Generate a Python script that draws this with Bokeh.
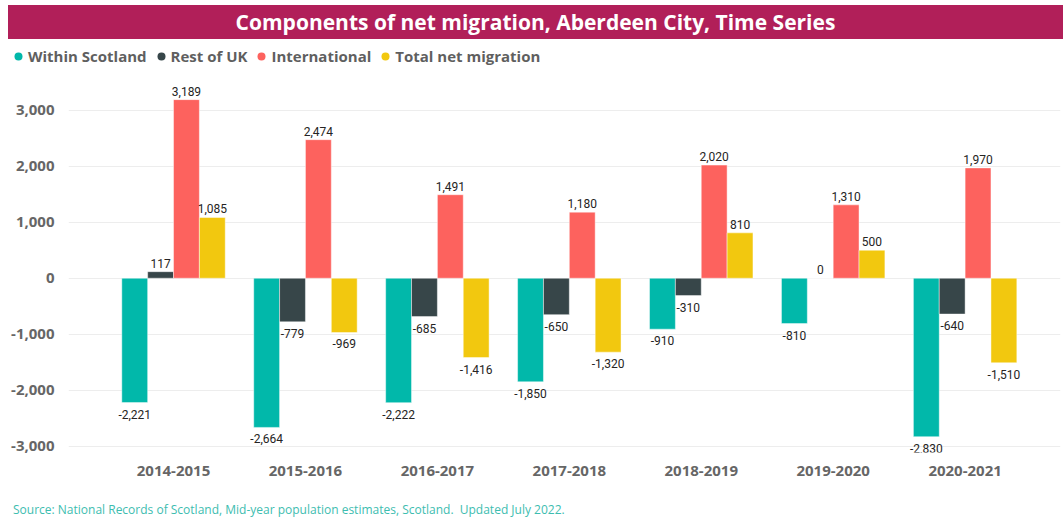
from bokeh.plotting import figure
from bokeh.models import (ColumnDataSource, Range1d, FixedTicker, NumeralTickFormatter,
                          Legend, LegendItem, Div)
from bokeh.layouts import column
from bokeh.transform import dodge
from bokeh.embed import file_html
from bokeh.resources import INLINE
from bokeh.core.properties import value

periods = ["2014-2015", "2015-2016", "2016-2017", "2017-2018", "2018-2019", "2019-2020", "2020-2021"]
within_scotland = [-2221, -2664, -2222, -1850, -910, -810, -2830]
rest_of_uk = [117, -779, -685, -650, -310, 0, -640]
international = [3189, 2474, 1491, 1180, 2020, 1310, 1970]
total_net = [1085, -969, -1416, -1320, 810, 500, -1510]
series_names = ["Within Scotland", "Rest of UK", "International", "Total net migration"]
y_ticks = [-3000, -2000, -1000, 0, 1000, 2000, 3000]

colors = ["#01B8AA", "#374649", "#FD625E", "#F2C80F"]
series = [within_scotland, rest_of_uk, international, total_net]
bar_w = 0.196
offsets = [(-1.5 + k) * bar_w for k in range(4)]

W = 1055

# ---------- main chart ----------
p = figure(width=W, height=426, x_range=Range1d(-0.796, 6.723), y_range=Range1d(-3112, 3620),
           output_backend="svg", toolbar_location=None,
           min_border_left=55, min_border_right=3, min_border_top=3, min_border_bottom=46)
p.outline_line_color = None
p.background_fill_color = "white"
p.border_fill_color = "white"
p.frame_align = False

idx = list(range(len(periods)))
label_font = value("Roboto")
for vals, col, off in zip(series, colors, offsets):
    src = ColumnDataSource(dict(idx=idx, val=vals))
    p.vbar(x=dodge("idx", off), top="val", bottom=0, width=bar_w, source=src,
           fill_color=col, line_color="white", line_alpha=0.45, line_width=1)
    pos = [(i, v) for i, v in zip(idx, vals) if v >= 0]
    neg = [(i, v) for i, v in zip(idx, vals) if v < 0]
    for group, base, yo in ((pos, "bottom", -4), (neg, "top", 7)):
        if not group:
            continue
        s = ColumnDataSource(dict(idx=[g[0] for g in group], val=[g[1] for g in group],
                                  lab=[f"{g[1]:,}" for g in group]))
        p.text(x=dodge("idx", off), y="val", text="lab", source=s, text_align="center",
               text_baseline=base, y_offset=yo, text_font=label_font,
               text_font_size="12px", text_color="#252423")

p.xaxis.ticker = FixedTicker(ticks=idx)
p.xaxis.major_label_overrides = {i: periods[i] for i in idx}
p.yaxis.ticker = FixedTicker(ticks=y_ticks)
p.yaxis.formatter = NumeralTickFormatter(format="0,0")
for ax in (p.xaxis, p.yaxis):
    ax.axis_line_color = None
    ax.major_tick_line_color = None
    ax.minor_tick_line_color = None
    ax.major_label_text_font = "Open Sans"
    ax.major_label_text_font_style = "bold"
    ax.major_label_text_font_size = "15px"
    ax.major_label_text_color = "#666666"
p.xaxis.major_label_standoff = 7
p.yaxis.major_label_standoff = 8
p.xgrid.grid_line_color = None
p.ygrid.grid_line_color = "#EDEDED"
p.ygrid.grid_line_width = 1
p.margin = 0

# ---------- legend strip ----------
lg = figure(width=W, height=33, x_range=Range1d(0, 1), y_range=Range1d(0, 1),
            output_backend="svg", toolbar_location=None, x_axis_type=None, y_axis_type=None,
            min_border_left=0, min_border_right=0, min_border_top=0, min_border_bottom=0)
lg.outline_line_color = None
lg.grid.grid_line_color = None
lg.margin = 0
lg.frame_align = False
items = []
for name, col in zip(series_names, colors):
    # legend proxy placed outside the strip's visible range
    r = lg.scatter(x=[-5], y=[-5], marker="circle", fill_color=col, line_color=None)
    items.append(LegendItem(label=name, renderers=[r]))
legend = Legend(items=items, orientation="horizontal", location=(0, 6),
                glyph_width=20, glyph_height=20, label_standoff=-4, spacing=4,
                padding=0, margin=0, border_line_color=None, background_fill_alpha=0,
                label_text_font="Open Sans", label_text_font_style="bold",
                label_text_font_size="15px", label_text_color="#5F5F5F", label_height=20)
lg.add_layout(legend)

title = Div(text=('<div style="width:1055px;height:34px;background:#B11F59;color:white;'
                  'font-family:\'Open Sans\';font-weight:bold;font-size:21px;text-align:center;'
                  'line-height:34px;">Components of net migration, Aberdeen City, Time Series</div>'),
            width=W, height=34, margin=0)
source = Div(text=('<div style="width:1050px;height:21px;color:#3DBDB0;font-family:\'Open Sans\';'
                   'font-size:12px;line-height:21px;padding-left:5px;padding-top:1px;">'
                   'Source: National Records of Scotland, Mid-year population estimates, Scotland.&nbsp; '
                   'Updated July 2022.</div>'),
             width=W, height=21, margin=0)
layout = column(title, lg, p, source, spacing=0, margin=(5, 0, 0, 8))

open("out.html", "w").write(file_html(layout, INLINE))
